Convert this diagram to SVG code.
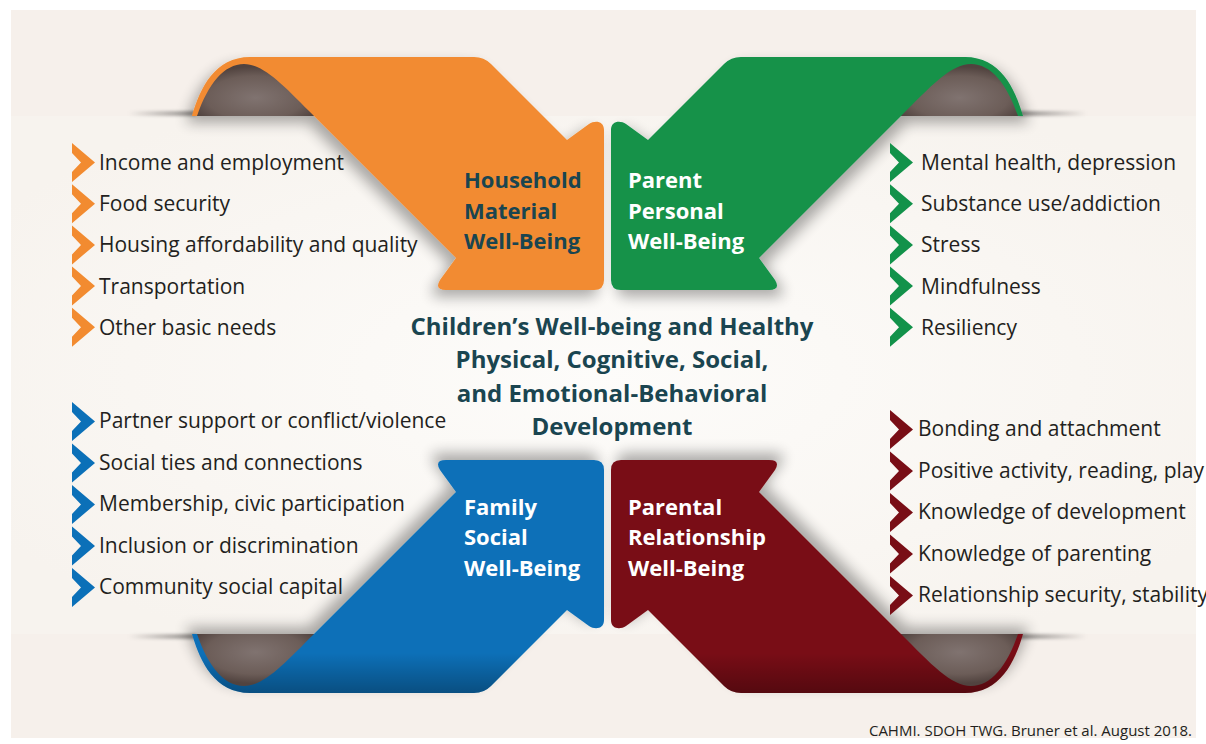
<svg xmlns="http://www.w3.org/2000/svg" width="1206" height="744" viewBox="0 0 1206 744">
<defs>
  <style>
    .item{font-family:"Open Sans","Noto Sans","Liberation Sans",sans-serif;font-size:21px;fill:#231f20}
    .head{font-family:"Open Sans","Noto Sans","Liberation Sans",sans-serif;font-size:22px;font-weight:700}
    .dark{fill:#1a4550}
    .light{fill:#ffffff}
    .center{font-family:"Open Sans","Noto Sans","Liberation Sans",sans-serif;font-size:24px;font-weight:700;fill:#1a4550;text-anchor:middle}
    .foot{font-family:"Open Sans","Noto Sans","Liberation Sans",sans-serif;font-size:15px;fill:#231f20;text-anchor:end}
  </style>
  <filter id="sh" x="-20%" y="-20%" width="140%" height="150%">
    <feGaussianBlur in="SourceAlpha" stdDeviation="7"/>
    <feOffset dx="-6" dy="7"/>
    <feComponentTransfer><feFuncA type="linear" slope="0.32"/></feComponentTransfer>
    <feMerge><feMergeNode/><feMergeNode in="SourceGraphic"/></feMerge>
  </filter>
  <filter id="soft" x="-10%" y="-100%" width="120%" height="300%">
    <feGaussianBlur stdDeviation="1.5"/>
  </filter>
  <radialGradient id="curl" cx="0.5" cy="0.65" r="0.6">
    <stop offset="0" stop-color="#807370"/>
    <stop offset="0.7" stop-color="#6c5d58"/>
    <stop offset="1" stop-color="#51433f"/>
  </radialGradient>
  <radialGradient id="paper" cx="0.5" cy="0.5" r="0.6">
    <stop offset="0" stop-color="#fdfcfa"/>
    <stop offset="1" stop-color="#f7f3ee"/>
  </radialGradient>
  <linearGradient id="edge" x1="0" y1="0" x2="1" y2="0">
    <stop offset="0" stop-color="#000" stop-opacity="0"/>
    <stop offset="1" stop-color="#000" stop-opacity="0.4"/>
  </linearGradient>
  <linearGradient id="dim" x1="0" y1="0" x2="0" y2="1">
    <stop offset="0" stop-color="#000" stop-opacity="0.3"/>
    <stop offset="1" stop-color="#000" stop-opacity="0"/>
  </linearGradient>
  <path id="arrow" d="M192,116 C200,88 215,57 250,57 L474,57 Q484,57 491,64 L567,140 L589,124 C595,120 604,121 604,130 L604,280 Q604,290 594,290 L446,290 Q434,290 440,280 L456,258 L314,116 Z"/>
  <clipPath id="arrowClip"><path d="M192,116 C200,88 215,57 250,57 L474,57 Q484,57 491,64 L567,140 L589,124 C595,120 604,121 604,130 L604,280 Q604,290 594,290 L446,290 Q434,290 440,280 L456,258 L314,116 Z"/></clipPath>
  <path id="arch" d="M197,116 C208,84 224,64 244,64 C264,64 284,86 314,116 Z"/>
  <rect id="edgesh" x="128" y="111" width="68" height="5"/>
  <polygon id="chev" points="0,0 23,19.5 0,39 0,29 9,19.5 0,10"/>
</defs>

<rect x="0" y="0" width="1206" height="744" fill="#ffffff"/>
<rect x="11" y="10" width="1185" height="728" fill="#f6f0eb"/>
<rect x="11" y="116" width="1185" height="518" fill="url(#paper)"/>

<g id="node-household">
  <use href="#edgesh" fill="url(#edge)" filter="url(#soft)"/>
  <use href="#arrow" fill="#f28b30" filter="url(#sh)"/>
  <use href="#arch" fill="url(#curl)"/>
  <text class="head dark"><tspan x="464" y="188">Household</tspan><tspan x="464" y="218.5">Material</tspan><tspan x="464" y="249">Well-Being</tspan></text>
</g>

<g id="node-parent-personal">
  <g transform="translate(1215,0) scale(-1,1)">
    <use href="#edgesh" fill="url(#edge)" filter="url(#soft)"/>
    <use href="#arrow" fill="#12924a" filter="url(#sh)"/>
    <use href="#arch" fill="url(#curl)"/>
  </g>
  <text class="head light"><tspan x="628" y="188">Parent</tspan><tspan x="628" y="218.5">Personal</tspan><tspan x="628" y="249">Well-Being</tspan></text>
</g>

<g id="node-family-social">
  <g transform="translate(0,750) scale(1,-1)">
    <use href="#edgesh" fill="url(#edge)" filter="url(#soft)"/>
    <use href="#arrow" fill="#0b70b8" filter="url(#sh)"/>
    <rect x="190" y="57" width="420" height="40" fill="url(#dim)" clip-path="url(#arrowClip)"/>
    <use href="#arch" fill="url(#curl)"/>
  </g>
  <text class="head light"><tspan x="464" y="515">Family</tspan><tspan x="464" y="545">Social</tspan><tspan x="464" y="575.5">Well-Being</tspan></text>
</g>

<g id="node-parental-relationship">
  <g transform="translate(1215,750) scale(-1,-1)">
    <use href="#edgesh" fill="url(#edge)" filter="url(#soft)"/>
    <use href="#arrow" fill="#790e16" filter="url(#sh)"/>
    <rect x="190" y="57" width="420" height="40" fill="url(#dim)" clip-path="url(#arrowClip)"/>
    <use href="#arch" fill="url(#curl)"/>
  </g>
  <text class="head light"><tspan x="628" y="515">Parental</tspan><tspan x="628" y="545">Relationship</tspan><tspan x="628" y="575.5">Well-Being</tspan></text>
</g>

<g id="list-household" fill="#f28b30">
  <use href="#chev" x="72" y="143"/>
  <use href="#chev" x="72" y="184.2"/>
  <use href="#chev" x="72" y="225.4"/>
  <use href="#chev" x="72" y="266.6"/>
  <use href="#chev" x="72" y="307.8"/>
  <text class="item" x="99" y="170">Income and employment</text>
  <text class="item" x="99" y="211.2">Food security</text>
  <text class="item" x="99" y="252.4">Housing affordability and quality</text>
  <text class="item" x="99" y="293.6">Transportation</text>
  <text class="item" x="99" y="334.8">Other basic needs</text>
</g>

<g id="list-parent-personal" fill="#12924a">
  <use href="#chev" x="890" y="143"/>
  <use href="#chev" x="890" y="184.2"/>
  <use href="#chev" x="890" y="225.4"/>
  <use href="#chev" x="890" y="266.6"/>
  <use href="#chev" x="890" y="307.8"/>
  <text class="item" x="921" y="170">Mental health, depression</text>
  <text class="item" x="921" y="211.2">Substance use/addiction</text>
  <text class="item" x="921" y="252.4">Stress</text>
  <text class="item" x="921" y="293.6">Mindfulness</text>
  <text class="item" x="921" y="334.8">Resiliency</text>
</g>

<g id="list-family-social" fill="#0b70b8">
  <use href="#chev" x="72" y="402"/>
  <use href="#chev" x="72" y="443.5"/>
  <use href="#chev" x="72" y="485"/>
  <use href="#chev" x="72" y="526.5"/>
  <use href="#chev" x="72" y="568"/>
  <text class="item" x="99" y="428">Partner support or conflict/violence</text>
  <text class="item" x="99" y="469.5">Social ties and connections</text>
  <text class="item" x="99" y="511">Membership, civic participation</text>
  <text class="item" x="99" y="552.5">Inclusion or discrimination</text>
  <text class="item" x="99" y="594">Community social capital</text>
</g>

<g id="list-parental-relationship" fill="#790e16">
  <use href="#chev" x="890" y="410"/>
  <use href="#chev" x="890" y="451.5"/>
  <use href="#chev" x="890" y="493"/>
  <use href="#chev" x="890" y="534.5"/>
  <use href="#chev" x="890" y="576"/>
  <text class="item" x="918" y="436">Bonding and attachment</text>
  <text class="item" x="918" y="477.5">Positive activity, reading, play</text>
  <text class="item" x="918" y="519">Knowledge of development</text>
  <text class="item" x="918" y="560.5">Knowledge of parenting</text>
  <text class="item" x="918" y="602">Relationship security, stability</text>
</g>

<g id="node-center">
  <text class="center"><tspan x="612" y="335">Children’s Well-being and Healthy</tspan><tspan x="612" y="368">Physical, Cognitive, Social,</tspan><tspan x="612" y="402">and Emotional-Behavioral</tspan><tspan x="612" y="435">Development</tspan></text>
</g>

<text class="foot" x="1192" y="736">CAHMI. SDOH TWG. Bruner et al. August 2018.</text>
</svg>
